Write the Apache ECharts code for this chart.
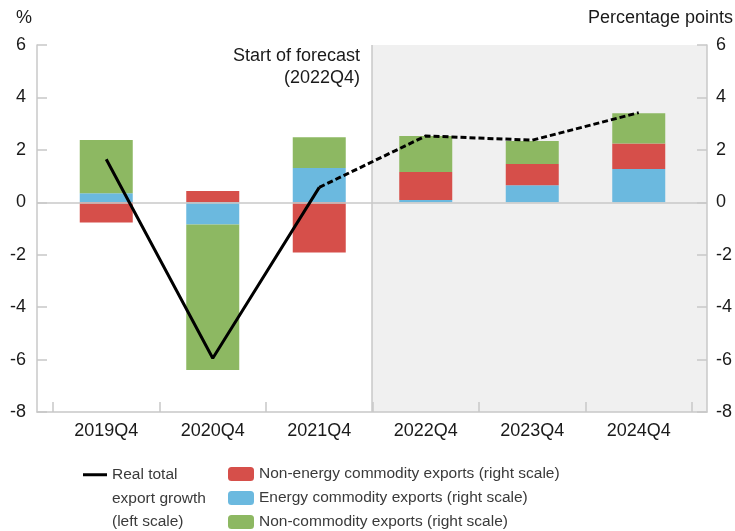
<!DOCTYPE html>
<html>
<head>
<meta charset="utf-8">
<script src="https://cdn.jsdelivr.net/npm/echarts@6/dist/echarts.min.js"></script>
<style>
  html, body { margin: 0; padding: 0; background: #fff; }
  #chart { width: 735px; height: 531px; }
</style>
</head>
<body>
<div id="chart"></div>
<script>
// data
var categories = ['2019Q4', '2020Q4', '2021Q4', '2022Q4', '2023Q4', '2024Q4'];
var nonEnergy = [-0.77, 0.43, -1.92, 1.07, 0.81, 0.97];
var energy = [0.34, -0.85, 1.31, 0.09, 0.65, 1.27];
var nonCommodity = [2.04, -5.55, 1.17, 1.37, 0.88, 1.16];
var exportGrowth = [1.64, -5.95, 0.57, 2.53, 2.37, 3.42];
var forecastIndex = 3; // 2022Q4
var yMin = -8, yMax = 6, yStep = 2;

var lineName = 'Real total export growth (left scale)';
var names = {
	nonEnergy: 'Non-energy commodity exports (right scale)',
	energy: 'Energy commodity exports (right scale)',
	nonCommodity: 'Non-commodity exports (right scale)'
};

// solid history, dashed forecast (joined at the last actual point)
var actual = exportGrowth.map(function(v, i) { return i < forecastIndex ? v : '-'; });
var forecast = exportGrowth.map(function(v, i) { return i >= forecastIndex - 1 ? v : '-'; });

var pad = 16 / 106.5; // frame extends a bit beyond the outer category bands

var gray = '#c8c8c8';
var font = 'Liberation Sans, Arial, sans-serif';

function initChart() {
	var myChart = echarts.init(document.getElementById('chart'));
	var tickStyle = { show: true, inside: true, length: 10, lineStyle: { color: gray, width: 1.5 } };
	var option = {
		animation: false,
		textStyle: { fontFamily: font },
		grid: [
			{ left: 37, right: 27, top: 45, bottom: 119 },
			{ left: 53, right: 43, top: 45, bottom: 119 }
		],
		xAxis: [
			{
				type: 'value', gridIndex: 0, z: 3,
				min: -0.5 - pad, max: categories.length - 0.5 + pad,
				axisLine: { show: true, onZero: false, lineStyle: { color: gray, width: 1.5 } },
				axisTick: { show: false }, axisLabel: { show: false }, splitLine: { show: false }
			},
			{
				type: 'category', gridIndex: 1, data: categories, z: 3,
				axisLine: { show: false, onZero: false },
				axisTick: tickStyle,
				axisLabel: { color: '#1a1a1a', fontSize: 18, margin: 10 }
			}
		],
		yAxis: [
			{
				type: 'value', gridIndex: 0, position: 'left', z: 3,
				min: yMin, max: yMax, interval: yStep,
				axisLine: { show: true, onZero: false, lineStyle: { color: gray, width: 1.5 } },
				axisTick: tickStyle,
				axisLabel: { color: '#1a1a1a', fontSize: 18, margin: 11 },
				splitLine: { show: false }
			},
			{
				type: 'value', gridIndex: 0, position: 'right', z: 3,
				min: yMin, max: yMax, interval: yStep,
				axisLine: { show: true, onZero: false, lineStyle: { color: gray, width: 1.5 } },
				axisTick: tickStyle,
				axisLabel: { color: '#1a1a1a', fontSize: 18, margin: 9 },
				splitLine: { show: false }
			},
			{ type: 'value', gridIndex: 1, position: 'left', min: yMin, max: yMax, show: false },
			{ type: 'value', gridIndex: 1, position: 'right', min: yMin, max: yMax, show: false }
		],
		legend: [
			{
				data: [{ name: lineName, icon: 'rect' }],
				left: 83, top: 416, padding: 0,
				itemWidth: 24, itemHeight: 3, itemGap: 0, itemTextGap: 6,
				formatter: function() { return '\n\nReal total\nexport growth\n(left scale)'; },
				textStyle: { color: '#3a3a3a', fontSize: 15.5, lineHeight: 23.5 }
			},
			{
				data: [names.nonEnergy, names.energy, names.nonCommodity],
				orient: 'vertical', left: 228, top: 466, height: 100, padding: 0,
				itemWidth: 26, itemHeight: 14, itemGap: 8, itemTextGap: 5,
				textStyle: { color: '#3a3a3a', fontSize: 15.5, lineHeight: 14 }
			}
		],
		graphic: [
			{ type: 'text', left: 16, top: 9, style: { text: '%', font: '18px ' + font, fill: '#1a1a1a' } },
			{ type: 'text', right: 2, top: 9, style: { text: 'Percentage points', font: '18px ' + font, fill: '#1a1a1a' } },
			{
				type: 'text', x: 360, y: 45,
				style: { text: 'Start of forecast\n(2022Q4)', font: '18px ' + font, fill: '#1a1a1a', textAlign: 'right', align: 'right', lineHeight: 22 }
			}
		],
		series: [
			{
				// frame: forecast shading, start line, zero line
				type: 'line', xAxisIndex: 0, yAxisIndex: 0, data: [], z: 1, silent: true,
				markArea: {
					silent: true,
					itemStyle: { color: '#f0f0f0' },
					data: [[{ xAxis: forecastIndex - 0.5 }, { xAxis: 'max' }]]
				},
				markLine: {
					silent: true, symbol: 'none', label: { show: false },
					lineStyle: { color: gray, width: 1.5, type: 'solid' },
					data: [{ xAxis: forecastIndex - 0.5 }, { yAxis: 0 }]
				}
			},
			{
				name: names.energy, type: 'bar', stack: 'c', xAxisIndex: 1, yAxisIndex: 3,
				barWidth: 53, itemStyle: { color: '#6bb9df' }, data: energy
			},
			{
				name: names.nonEnergy, type: 'bar', stack: 'c', xAxisIndex: 1, yAxisIndex: 3,
				barWidth: 53, itemStyle: { color: '#d64f4a' }, data: nonEnergy
			},
			{
				name: names.nonCommodity, type: 'bar', stack: 'c', xAxisIndex: 1, yAxisIndex: 3,
				barWidth: 53, itemStyle: { color: '#8db862' }, data: nonCommodity
			},
			{
				name: lineName, type: 'line', xAxisIndex: 1, yAxisIndex: 2, z: 5,
				symbol: 'none', data: actual,
				lineStyle: { color: '#000', width: 3 }, itemStyle: { color: '#000' }
			},
			{
				name: lineName, type: 'line', xAxisIndex: 1, yAxisIndex: 2, z: 5,
				symbol: 'none', data: forecast,
				lineStyle: { color: '#000', width: 3, type: [6, 3] }, itemStyle: { color: '#000' }
			}
		]
	};
	myChart.setOption(option, true);
}

initChart();
</script>
</body>
</html>
